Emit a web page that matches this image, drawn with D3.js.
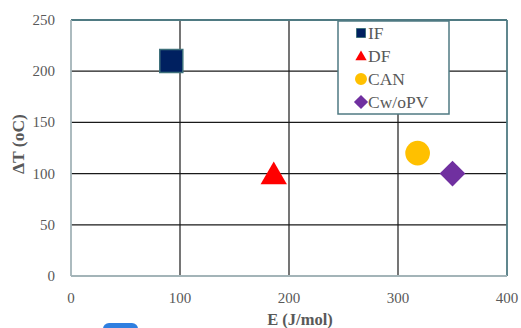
<!DOCTYPE html>
<html><head><meta charset="utf-8">
<script src="https://cdn.jsdelivr.net/npm/d3@7"></script>
<style>body{margin:0;background:#fff;}svg{display:block;}</style>
</head><body>
<script>
const names = ["IF","DF","CAN","Cw/oPV"];
const xValues = [92, 186, 318, 350];
const yValues = [210, 100, 120, 100];
const colors = ["#002060","#ff0000","#ffc000","#7030a0"];
const shapes = ["square","triangle","circle","diamond"];
const xTicks = [0,100,200,300,400];
const yTicks = [0,50,100,150,200,250];

const W=521,H=328;
const svg=d3.select("body").append("svg").attr("width",W).attr("height",H);
const pL=71,pR=507,pT=20,pB=276;
const x=d3.scaleLinear().domain([0,400]).range([pL,pR]);
const y=d3.scaleLinear().domain([0,250]).range([pB,pT]);

// gridlines
svg.append("g").selectAll("line").data(yTicks.filter(d=>d>0&&d<250)).join("line")
 .attr("x1",pL).attr("x2",pR).attr("y1",d=>y(d)).attr("y2",d=>y(d))
 .attr("stroke","#1a1a1a").attr("stroke-width",1.2);
svg.append("g").selectAll("line").data(xTicks.filter(d=>d>0&&d<400)).join("line")
 .attr("y1",pT).attr("y2",pB).attr("x1",d=>x(d)).attr("x2",d=>x(d))
 .attr("stroke","#1a1a1a").attr("stroke-width",1.2);
// plot border
svg.append("line").attr("x1",pL).attr("x2",pR).attr("y1",pT).attr("y2",pT).attr("stroke","#4f7a82").attr("stroke-width",1.8);
svg.append("line").attr("x1",pR).attr("x2",pR).attr("y1",pT).attr("y2",pB).attr("stroke","#4f7a82").attr("stroke-width",1.8);
svg.append("line").attr("x1",pL).attr("x2",pR).attr("y1",pB).attr("y2",pB).attr("stroke","#a3b4b8").attr("stroke-width",1.8);
svg.append("line").attr("x1",pL).attr("x2",pL).attr("y1",pT).attr("y2",pB).attr("stroke","#a3b4b8").attr("stroke-width",1.8);

// tick labels
const font="'Liberation Serif','Times New Roman',serif";
svg.append("g").selectAll("text").data(xTicks).join("text")
 .attr("x",d=>x(d)).attr("y",303).attr("text-anchor","middle")
 .attr("font-family",font).attr("font-size",15).attr("fill","#595959").text(d=>d);
svg.append("g").selectAll("text").data(yTicks).join("text")
 .attr("x",55).attr("y",d=>y(d)+5).attr("text-anchor","end")
 .attr("font-family",font).attr("font-size",15).attr("fill","#595959").text(d=>d);

// axis titles
svg.append("text").attr("x",x(200)+11).attr("y",325).attr("text-anchor","middle")
 .attr("font-family",font).attr("font-size",16.5).attr("font-weight","bold").attr("fill","#595959").text("E (J/mol)");
svg.append("text").attr("transform",`translate(24,144) rotate(-90)`).attr("text-anchor","middle")
 .attr("font-family",font).attr("font-size",17.5).attr("font-weight","bold").attr("fill","#595959").text("ΔT (oC)");

// markers
const symType={square:d3.symbolSquare,triangle:d3.symbolTriangle,circle:d3.symbolCircle,diamond:d3.symbolSquare};
const sizes={square:530,triangle:300,circle:480,diamond:330};
const pts=names.map((n,i)=>({n,x:xValues[i],y:yValues[i],c:colors[i],s:shapes[i]}));
svg.append("g").selectAll("path").data(pts).join("path")
 .attr("d",d=>d3.symbol(symType[d.s],sizes[d.s])())
 .attr("transform",d=>{
   let dy=d.s==="triangle"?3:0;
   return `translate(${x(d.x)},${y(d.y)+dy})`+(d.s==="diamond"?" rotate(45)":"");})
 .attr("fill",d=>d.c)
 .attr("stroke",d=>d.s==="square"?"#3d6f7a":"none").attr("stroke-width",1.5);

// legend
const lg=svg.append("g");
lg.append("rect").attr("x",338).attr("y",21).attr("width",111).attr("height",93)
 .attr("fill","#fff").attr("stroke","#4f7a82").attr("stroke-width",1.5);
const lsz={square:81,triangle:55,circle:113,diamond:100};
const items=lg.selectAll("g").data(pts).join("g").attr("transform",(d,i)=>`translate(0,${33+i*23})`);
items.append("path")
 .attr("d",d=>d3.symbol(symType[d.s],lsz[d.s])())
 .attr("transform",d=>"translate(361,"+(d.s==="triangle"?1:0)+")"+(d.s==="diamond"?" rotate(45)":""))
 .attr("fill",d=>d.c).attr("stroke",d=>d.s==="square"?"#3d6f7a":"none");
items.append("text").attr("x",368).attr("y",6).attr("font-family",font).attr("font-size",17.5)
 .attr("fill","#595959").text(d=>d.n);

// blue artifact at bottom
svg.append("rect").attr("x",103).attr("y",323).attr("width",35).attr("height",14).attr("rx",6)
 .attr("fill","#2f7fe0");
</script>
</body></html>
